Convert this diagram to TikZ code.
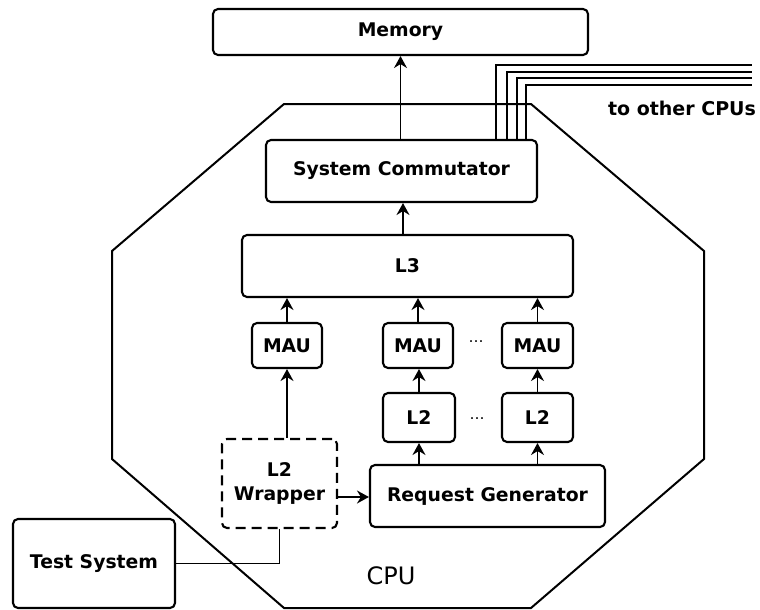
\documentclass[tikz,border=0pt]{standalone}
\usepackage{fontspec}
\setmainfont{DejaVu Sans}
\usetikzlibrary{arrows.meta}
\begin{document}
\begin{tikzpicture}[x=1pt,y=-1pt,
  box/.style={draw=black, line width=2.1pt, rounded corners=5pt, inner sep=0pt, fill=white,
    font=\fontsize{18.8}{24}\selectfont\bfseries, align=center},
  dbox/.style={box, dash pattern=on 10pt off 6pt},
  conn/.style={line width=1.7pt},
  arr/.style={conn, -{Stealth[length=12pt,width=13pt,inset=4pt]}},
  dots/.style={font=\fontsize{15}{17}\selectfont, inner sep=0pt}
]
\useasboundingbox (0,0) rectangle (760,610);
% octagon
\draw[line width=2pt] (284,104) -- (531,104) -- (704,251) -- (704,459) -- (531,608) -- (284,608) -- (112,459) -- (112,251) -- cycle;
% boxes
\node[box, minimum width=375pt, minimum height=46pt] (mem) at (400.5,32) {Memory};
\node[box, minimum width=271pt, minimum height=62pt] (sc) at (401.5,171) {System Commutator};
\node[box, minimum width=331pt, minimum height=62pt] (l3) at (407.5,266) {L3};
\node[box, minimum width=70pt, minimum height=45pt] (mau1) at (287,345.5) {MAU};
\node[box, minimum width=70pt, minimum height=45pt] (mau2) at (418,345.5) {MAU};
\node[box, minimum width=71pt, minimum height=45pt] (mau3) at (537.5,345.5) {MAU};
\node[box, minimum width=72pt, minimum height=49pt] (l2a) at (419,417.5) {L2};
\node[box, minimum width=71pt, minimum height=49pt] (l2b) at (537.5,417.5) {L2};
\node[box, minimum width=235pt, minimum height=62pt] (rg) at (487.5,496) {Request Generator};
\node[dbox, minimum width=115pt, minimum height=89pt] (wr) at (279.5,483.5) {L2\\Wrapper};
\node[box, minimum width=162pt, minimum height=89pt] (ts) at (94,563.5) {Test System};
% dots
\node[dots] (d1) at (476,342) {…};
\node[dots] (d2) at (477,419) {…};
% labels
\node[font=\fontsize{24}{28}\selectfont, inner sep=0pt] (cpu) at (391,576) {CPU};
\node[font=\fontsize{19}{23}\selectfont\bfseries, inner sep=0pt] (oth) at (682,108) {to other CPUs};
% connectors
\draw[arr] (sc.north -| mem) -- (mem.south);
\draw[arr] (l3.north -| 403,0) -- (sc.south -| 403,0);
\draw[arr] (mau1.north) -- (l3.south -| mau1.north);
\draw[arr] (mau2.north) -- (l3.south -| mau2.north);
\draw[arr] (mau3.north) -- (l3.south -| mau3.north);
\draw[arr] (wr.north -| mau1) -- (mau1.south);
\draw[arr] (l2a.north) -- (mau2.south -| l2a.north);
\draw[arr] (l2b.north) -- (mau3.south -| l2b.north);
\draw[arr] (rg.north -| l2a) -- (l2a.south);
\draw[arr] (rg.north -| l2b) -- (l2b.south);
\draw[arr] (wr.east |- 0,497) -- (rg.west |- 0,497);
\draw[conn] (wr.south) |- (ts.east);
% lines to other CPUs
\coordinate (e1) at (752,65);
\coordinate (e2) at (752,72);
\coordinate (e3) at (752,78);
\coordinate (e4) at (752,85);
\draw[conn] (sc.north -| 496,0) |- (e1);
\draw[conn] (sc.north -| 507,0) |- (e2);
\draw[conn] (sc.north -| 517,0) |- (e3);
\draw[conn] (sc.north -| 526,0) |- (e4);
\end{tikzpicture}
\end{document}
